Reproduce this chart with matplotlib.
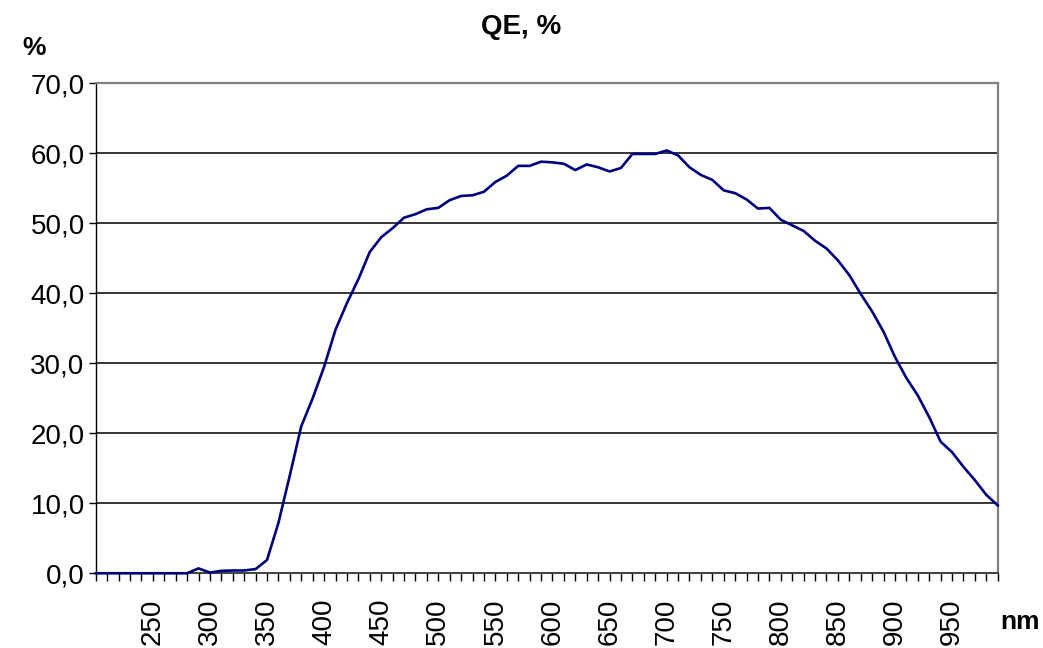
import matplotlib

matplotlib.use("Agg")
import matplotlib.pyplot as plt
from matplotlib.ticker import FuncFormatter

plt.rcParams["font.family"] = ["Liberation Sans", "DejaVu Sans"]

# wavelength, nm (10 nm step)
wavelength = list(range(200, 1000, 10))

# QE, %
qe = [
    0.0, 0.0, 0.0, 0.0, 0.0, 0.0, 0.0, 0.0, 0.0,          # 200-280
    0.7, 0.1, 0.35, 0.4, 0.4, 0.6, 1.9, 7.2, 14.0, 21.0,  # 290-380
    25.0, 29.5, 34.8, 38.6, 42.0, 45.9, 48.0, 49.3, 50.8, 51.3,  # 390-480
    52.0, 52.2, 53.3, 53.9, 54.0, 54.5, 55.9, 56.8, 58.2, 58.2,  # 490-580
    58.8, 58.7, 58.5, 57.6, 58.4, 58.0, 57.4, 57.9, 59.9, 59.9,  # 590-680
    59.9, 60.4, 59.7, 58.0, 56.9, 56.2, 54.7, 54.3, 53.4, 52.1,  # 690-780
    52.2, 50.5, 49.7, 48.9, 47.5, 46.4, 44.7, 42.6, 39.9, 37.4,  # 790-880
    34.5, 30.9, 27.9, 25.4, 22.3, 18.8, 17.3, 15.2, 13.3, 11.2,  # 890-980
    9.7,                                                  # 990
]

x_labels = [str(w) if (w % 50 == 0 and 250 <= w <= 950) else "" for w in wavelength]
y_ticks = [0, 10, 20, 30, 40, 50, 60, 70]

fig = plt.figure(figsize=(10.43, 6.48), dpi=100)
ax = fig.add_axes([0.0918, 0.1153, 0.8648, 0.7562])

ax.plot(wavelength, qe, color="#000080", linewidth=1.9, zorder=3, clip_on=False)

ax.set_xlim(200, 990)
ax.set_ylim(0, 70)

ax.set_yticks(y_ticks)
ax.yaxis.set_major_formatter(FuncFormatter(lambda v, _: f"{v:.1f}".replace(".", ",")))
ax.set_xticks(wavelength)
ax.set_xticklabels(x_labels, rotation=90, va="top", ha="center")

ax.tick_params(axis="y", labelsize=20, length=5, width=1.0, direction="out", pad=3, color="black")
ax.tick_params(axis="x", labelsize=20, length=6, width=1.0, direction="out", pad=12, color="black")

for y in y_ticks[1:-1]:
    ax.axhline(y, color="black", linewidth=1.1, zorder=0)

ax.spines["left"].set_color("black")
ax.spines["left"].set_linewidth(1.0)
ax.spines["bottom"].set_color("#404040")
ax.spines["bottom"].set_linewidth(1.4)
ax.spines["top"].set_color("#808080")
ax.spines["top"].set_linewidth(1.6)
ax.spines["right"].set_color("#808080")
ax.spines["right"].set_linewidth(1.6)

fig.text(0.5, 0.958, "QE, %", ha="center", va="center", fontsize=20, fontweight="bold")
fig.text(0.033, 0.926, "%", ha="center", va="center", fontsize=19, fontweight="bold")
fig.text(0.978, 0.040, "nm", ha="center", va="center", fontsize=19, fontweight="bold")

fig.savefig("out.png", dpi=100)
plt.close(fig)
